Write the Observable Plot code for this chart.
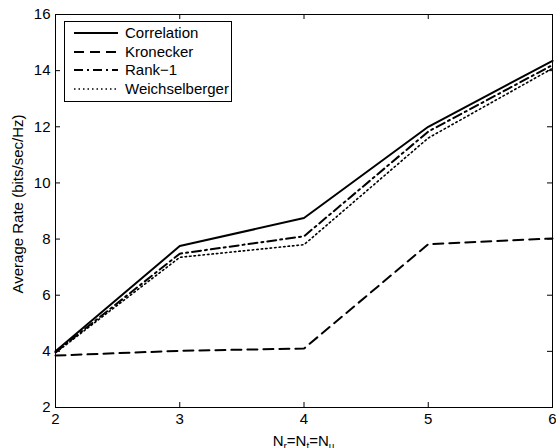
<!DOCTYPE html>
<html><head><meta charset="utf-8">
<script src="https://cdn.jsdelivr.net/npm/d3@7"></script>
<script src="https://cdn.jsdelivr.net/npm/@observablehq/plot@0.6"></script>
<style>body{margin:0;background:#fff} #chart{width:556px;height:448px}</style>
</head><body><div id="chart"></div>
<script>
const antennas = [2, 3, 4, 5, 6];
const correlation = [4.0, 7.75, 8.75, 12.0, 14.35];
const kronecker = [3.85, 4.02, 4.1, 7.82, 8.02];
const rank1 = [3.97, 7.48, 8.1, 11.83, 14.2];
const weichselberger = [3.95, 7.35, 7.8, 11.6, 14.08];
const seriesNames = ["Correlation", "Kronecker", "Rank\u22121", "Weichselberger"];
const xTicks = [2, 3, 4, 5, 6];
const yTicks = [2, 4, 6, 8, 10, 12, 14, 16];

const W = 556, H = 448, mL = 55, mR = 4, mT = 14, mB = 41;
const innerW = W - mL - mR, innerH = H - mT - mB;
const font = "'Liberation Sans', Arial, Helvetica, sans-serif";

const seriesValues = [correlation, kronecker, rank1, weichselberger];
const styles = [
  {strokeWidth: 2, dash: null},
  {strokeWidth: 2, dash: "10,6"},
  {strokeWidth: 2, dash: "9,4,2,4"},
  {strokeWidth: 1.6, dash: "1.5,3"}
];
const rows = seriesValues.map(vals => antennas.map((n, i) => ({n, rate: vals[i]})));

const lineMarks = rows.map((r, k) => Plot.line(r, {
  x: "n", y: "rate", stroke: "black",
  strokeWidth: styles[k].strokeWidth,
  strokeDasharray: styles[k].dash || undefined
}));

const plot = Plot.plot({
  width: W, height: H,
  marginLeft: mL, marginRight: mR, marginTop: mT, marginBottom: mB,
  style: {fontFamily: font, fontSize: "15px", color: "black", background: "white"},
  x: {domain: [2, 6], label: null},
  y: {domain: [2, 16], label: null},
  marks: [
    ...lineMarks,
    Plot.frame({stroke: "black", strokeWidth: 1}),
    Plot.axisX(xTicks, {tickSize: 0, tickPadding: 6, label: null, fontSize: 15, tickFormat: d => String(d)}),
    Plot.axisY(yTicks, {tickSize: 0, tickPadding: 5, label: null, fontSize: 15, tickFormat: d => String(d)}),
    Plot.tickX(xTicks, {x: d => d, insetTop: innerH - 5, stroke: "black"}),
    Plot.tickX(xTicks, {x: d => d, insetBottom: innerH - 5, stroke: "black"}),
    Plot.tickY(yTicks, {y: d => d, insetRight: innerW - 5, stroke: "black"}),
    Plot.tickY(yTicks, {y: d => d, insetLeft: innerW - 5, stroke: "black"})
  ]
});
document.getElementById("chart").appendChild(plot);

const svg = d3.select(plot.tagName.toLowerCase() === "svg" ? plot : plot.querySelector("svg"));

// Legend
const lg = svg.append("g").attr("font-family", font).attr("font-size", 15).attr("text-anchor", "start");
lg.append("rect").attr("x", 64.5).attr("y", 21.5).attr("width", 167).attr("height", 80)
  .attr("fill", "white").attr("stroke", "black").attr("stroke-width", 1);
const rowY = [33, 52, 70, 89];
seriesNames.forEach((name, k) => {
  const ln = lg.append("line").attr("x1", 74).attr("x2", 118).attr("y1", rowY[k]).attr("y2", rowY[k])
    .attr("stroke", "black").attr("stroke-width", styles[k].strokeWidth);
  if (styles[k].dash) ln.attr("stroke-dasharray", styles[k].dash);
  lg.append("text").attr("x", 125).attr("y", rowY[k]).attr("dy", "0.35em")
    .attr("text-anchor", "start").attr("fill", "black").text(name);
});

// Y label
svg.append("text").attr("transform", "translate(23,204) rotate(-90)")
  .attr("text-anchor", "middle").attr("font-family", font).attr("font-size", 15)
  .attr("fill", "black").text("Average Rate (bits/sec/Hz)");

// X label with subscripts
const xl = svg.append("text").attr("x", mL + innerW / 2).attr("y", 446)
  .attr("text-anchor", "middle").attr("font-family", font).attr("font-size", 15).attr("fill", "black");
[["N", false], ["r", true], ["=N", false], ["t", true], ["=N", false], ["u", true]].forEach(([t, sub], i) => {
  const ts = xl.append("tspan").text(t);
  if (sub) ts.attr("font-size", 10).attr("dy", 4);
  else if (i > 0) ts.attr("dy", -4);
});
</script>
</body></html>
